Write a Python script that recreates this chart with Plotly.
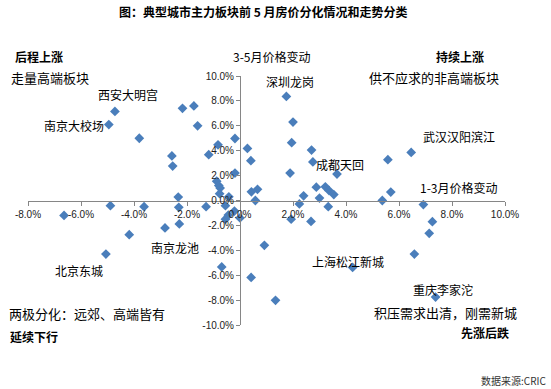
import plotly.graph_objects as go

# 1-3月价格变动 (%)
chg_q1 = [-4.72, -4.95, -3.80, -2.17, -1.74, -1.60, -0.19, 0.28, 0.41, -0.83,
          -1.18, -2.57, -2.54, -0.19, -0.88, -0.80, -0.75, -0.77, -0.42, 0.43,
          0.66, 0.58, -2.33, -4.89, -3.62, -2.31, -1.28, -0.55, -6.64, -0.21,
          -0.44, -0.55, 0.00, -2.29, -2.83, -4.18, -5.06, -0.69, 0.42, 0.92,
          1.34, 1.75, 2.00, 1.95, 2.70, 2.75, 1.89, 3.66, 2.88, 3.22,
          3.36, 3.54, 3.00, 2.40, 2.24, 3.33, 1.93, 2.68, 5.58, 6.46,
          5.69, 5.37, 6.92, 7.26, 7.14, 6.58, 7.38, 4.25]
# 3-5月价格变动 (%)
chg_q2 = [7.15, 6.10, 5.00, 7.40, 7.60, 6.00, 4.98, 4.18, 3.20, 4.47,
          3.68, 3.58, 2.77, 2.20, 1.55, 1.20, 1.00, 0.55, 0.30, 0.70,
          0.90, 0.00, 0.28, -0.42, -0.50, -0.55, -0.50, -0.42, -1.20, -0.85,
          -1.17, -1.50, -1.40, -1.88, -2.20, -2.75, -4.30, -5.34, -6.18, -3.60,
          -8.02, 8.36, 6.30, 4.64, 4.05, 3.10, 2.20, 2.12, 1.07, 1.10,
          0.80, 0.48, 0.20, 0.38, -0.28, -0.50, -1.50, -1.68, 3.28, 3.86,
          0.68, 0.00, -0.33, -1.70, -2.64, -4.30, -7.76, -5.38]

x_ticks = [-8, -6, -4, -2, 0, 2, 4, 6, 8, 10]
x_labels = ["-8.0%", "-6.0%", "-4.0%", "-2.0%", "0.0%", "2.0%", "4.0%",
            "6.0%", "8.0%", "10.0%"]
y_ticks = [-10, -8, -6, -4, -2, 0, 2, 4, 6, 8, 10]
y_labels = ["-10.0%", "-8.0%", "-6.0%", "-4.0%", "-2.0%", "0.0%", "2.0%",
            "4.0%", "6.0%", "8.0%", "10.0%"]

title = "图：典型城市主力板块前 5 月房价分化情况和走势分类"

# layout helpers (pixel -> paper)
L, R, T, B = 28, 505, 76, 325
def px(x):
    return (x - L) / (R - L)
def py(y):
    return (B - y) / (B - T)

CJK = "Noto Sans CJK SC"

fig = go.Figure()
fig.add_trace(go.Scatter(
    x=chg_q1, y=chg_q2, mode="markers",
    marker=dict(symbol="diamond", size=7.5, color="#4a7ebb", line=dict(width=0)),
    hoverinfo="x+y", showlegend=False))

axis_common = dict(showgrid=False, zeroline=False, showline=True,
                   linecolor="#868686", linewidth=1, ticks="outside",
                   ticklen=4, tickcolor="#868686",
                   tickfont=dict(family="Liberation Sans, Arial", size=10, color="#222"))

fig.update_layout(
    width=551, height=389,
    margin=dict(l=L, r=551 - R, t=T, b=389 - B),
    paper_bgcolor="white", plot_bgcolor="white",
    xaxis=dict(range=[-8, 10], tickvals=x_ticks, ticktext=x_labels,
               anchor="free", position=0.5, **axis_common),
    yaxis=dict(range=[-10, 10], tickvals=y_ticks, ticktext=y_labels,
               anchor="free", position=8 / 18, **axis_common),
)

def note(text, x, y, size=12, bold=False, anchor="center", color="#000"):
    t = f"<b>{text}</b>" if bold else text
    fig.add_annotation(text=t, x=px(x), y=py(y), xref="paper", yref="paper",
                       xanchor=anchor, yanchor="middle", showarrow=False,
                       font=dict(family=CJK, size=size, color=color))

note(title, 263, 12, size=12, bold=True)
note("后程上涨", 13, 57, bold=True, anchor="left")
note("3-5月价格变动", 272, 57)
note("持续上涨", 460, 57, bold=True)
note("走量高端板块", 9, 77, size=13, anchor="left")
note("西安大明宫", 128, 95)
note("南京大校场", 74, 125)
note("深圳龙岗", 290, 82)
note("供不应求的非高端板块", 434, 77, size=13)
note("武汉汉阳滨江", 459, 136)
note("成都天回", 340, 164)
note("1-3月价格变动", 459, 187)
note("南京龙池", 175, 247)
note("北京东城", 79, 270)
note("两极分化：远郊、高端皆有", 7, 313, size=13, anchor="left")
note("延续下行", 8, 336, bold=True, anchor="left")
note("上海松江新城", 348, 261)
note("重庆李家沱", 443, 289)
note("积压需求出清，刚需新城", 445, 312, size=13)
note("先涨后跌", 485, 332, bold=True)
note("数据来源:CRIC", 548, 380, size=10, anchor="right", color="#333")

fig.write_html("out.html",
               config={"displayModeBar": False},
               post_script="document.body.style.margin='0';document.body.style.padding='0';")
